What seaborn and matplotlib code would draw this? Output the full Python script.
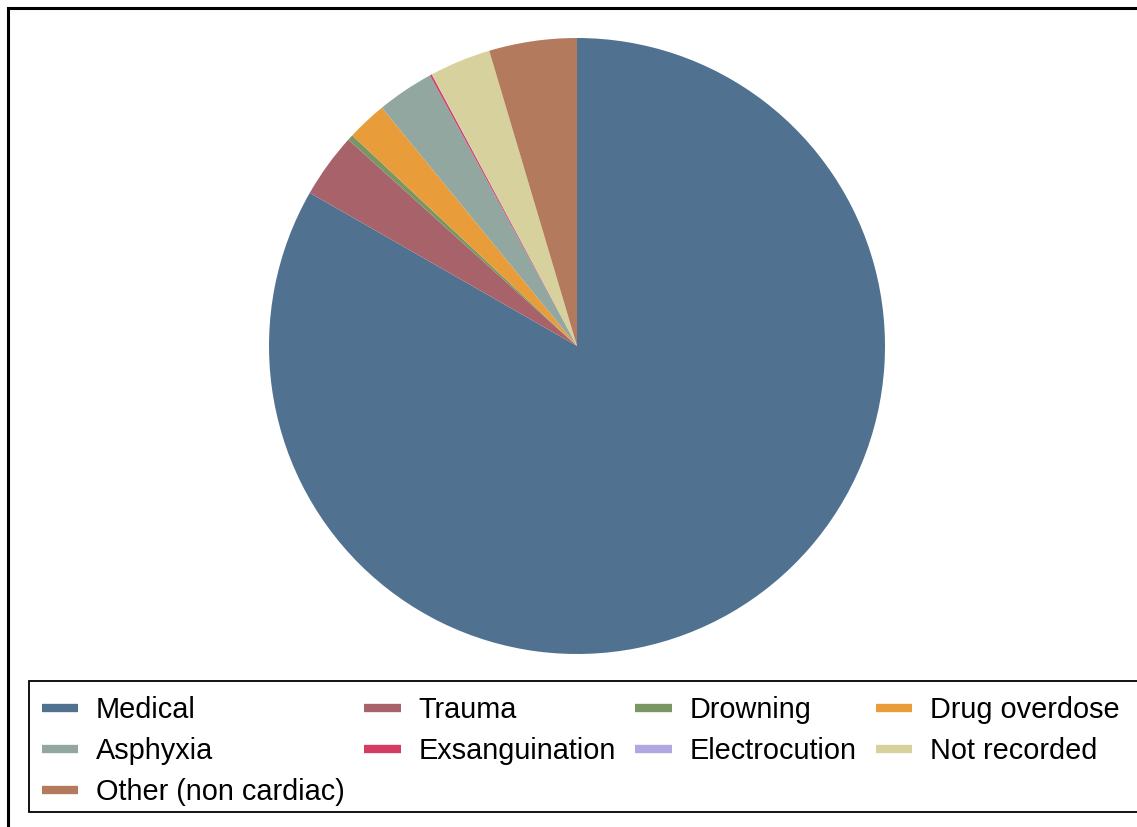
import matplotlib
matplotlib.use("Agg")
import matplotlib.pyplot as plt
from matplotlib.lines import Line2D
from matplotlib.patches import Rectangle
import seaborn as sns

# Causes of arrest (percent of cases), drawn clockwise from 12 o'clock
categories = ["Medical", "Trauma", "Drowning", "Drug overdose", "Asphyxia",
              "Exsanguination", "Electrocution", "Not recorded", "Other (non cardiac)"]
shares = [83.3, 3.4, 0.3, 2.1, 3.0, 0.1, 0.02, 3.2, 4.6]
colors = ["#507290", "#A8636A", "#7A9662", "#E89D3A", "#91A7A0",
          "#D53C64", "#B0A8E0", "#D6D19D", "#B47A5D"]

sns.set_theme(style="white")
plt.rcParams["font.family"] = ["Liberation Sans", "DejaVu Sans"]
palette = sns.color_palette(colors)

W, H = 1137, 827
fig = plt.figure(figsize=(W / 100, H / 100), dpi=100)
fig.patch.set_facecolor("white")

# outer frame (runs off the right and bottom edges)
fig.patches.append(Rectangle((8 / W, -20 / H), (W + 40) / W, (H - 8 + 20) / H,
                             transform=fig.transFigure, fill=False,
                             edgecolor="black", linewidth=2.2, zorder=0))

# pie axes: centre (577, 346) px, radius 308 px
cx, cy, r = 577, 346, 308
ax = fig.add_axes([(cx - r) / W, (H - cy - r) / H, 2 * r / W, 2 * r / H])
ax.pie(shares, colors=palette, startangle=90, counterclock=False,
       radius=1.0, wedgeprops=dict(linewidth=0, antialiased=True))
ax.set_xlim(-1, 1)
ax.set_ylim(-1, 1)
ax.set_aspect("equal")
ax.axis("off")

# legend box (extends past the right edge)
fig.patches.append(Rectangle((29 / W, 1 - 812 / H), (W + 40 - 29) / W, 131 / H,
                             transform=fig.transFigure, facecolor="white",
                             edgecolor="black", linewidth=1.3, zorder=1))

# legend entries laid out row-wise in 4 columns
ncol = 4
handles = [Line2D([0], [0], color=c, linewidth=6, solid_capstyle="butt") for c in palette]
order = [0, 4, 8, 1, 5, 2, 6, 3, 7]
leg = fig.legend([handles[i] for i in order], [categories[i] for i in order],
                 ncol=ncol, loc="upper left",
                 bbox_to_anchor=(42 / W, 1 - 696.5 / H),
                 bbox_transform=fig.transFigure,
                 fontsize=20.8, frameon=False, labelcolor="black",
                 handlelength=1.25, handletextpad=0.62, columnspacing=0.68,
                 labelspacing=0.44, borderpad=0, borderaxespad=0)
leg.set_zorder(2)

fig.savefig("out.png", dpi=100, facecolor="white")
